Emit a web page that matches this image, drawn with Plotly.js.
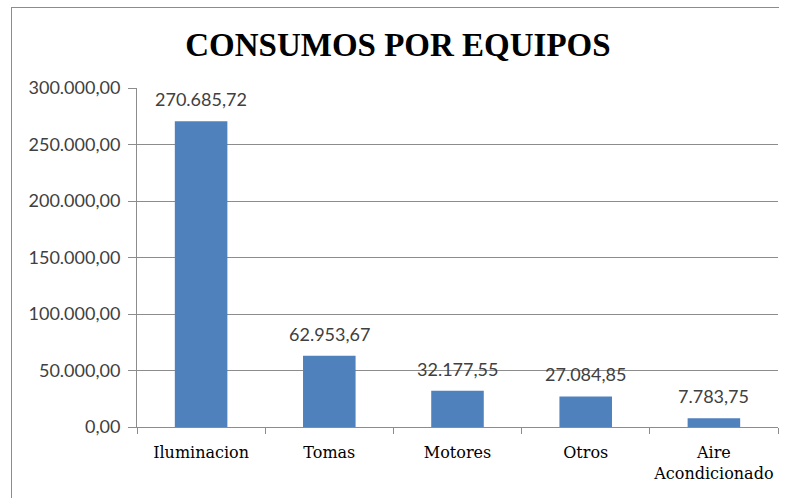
<!DOCTYPE html>
<html>
<head>
<meta charset="utf-8">
<script src="https://cdn.plot.ly/plotly-3.0.1.min.js"></script>
<style>
html,body{margin:0;padding:0;background:#fff;}
#wrap{position:relative;width:788px;height:498px;}
#chart{position:absolute;left:0;top:0;width:788px;height:498px;}
#frame{position:absolute;left:11px;top:7px;width:767px;height:500px;border-left:1px solid #8c8c8c;border-top:1px solid #8c8c8c;pointer-events:none;}
</style>
</head>
<body>
<div id="wrap"><div id="chart"></div><div id="frame"></div></div>
<script>
const categories = ["Iluminacion", "Tomas", "Motores", "Otros", "Aire<br>Acondicionado"];
const values = [270685.72, 62953.67, 32177.55, 27084.85, 7783.75];
const yTicks = [0, 50000, 100000, 150000, 200000, 250000, 300000];

function fmt(v) {
  const parts = v.toFixed(2).split(".");
  const intPart = parts[0].replace(/\B(?=(\d{3})+(?!\d))/g, ".");
  return intPart + "," + parts[1];
}

const trace = {
  type: "bar",
  x: categories,
  y: values,
  marker: {color: "#4F81BD", line: {width: 0}},
  hoverinfo: "none"
};

const annotations = categories.map((c, i) => ({
  x: c, y: values[i], xref: "x", yref: "y",
  text: fmt(values[i]), showarrow: false,
  yanchor: "bottom", yshift: 9,
  font: {family: "Lato, 'Open Sans', sans-serif", size: 18, color: "#404040"}
}));

const layout = {
  width: 788, height: 498,
  margin: {l: 137, r: 10, t: 88, b: 71},
  paper_bgcolor: "#fff", plot_bgcolor: "#fff",
  separators: ",.",
  showlegend: false,
  bargap: 0.59,
  title: {
    text: "<b>CONSUMOS POR EQUIPOS</b>",
    x: 0.505, xanchor: "center", y: 0.91, yanchor: "middle",
    font: {family: "'Liberation Serif', serif", size: 33, color: "#000"}
  },
  xaxis: {
    type: "category",
    showline: true, linecolor: "#8c8c8c", linewidth: 1,
    ticks: "outside", tickson: "boundaries", ticklen: 6, tickcolor: "#8c8c8c",
    showgrid: false,
    tickangle: 0,
    ticklabelstandoff: 11,
    tickfont: {family: "'DejaVu Serif', serif", size: 16, color: "#000"}
  },
  yaxis: {
    range: [0, 300000],
    tickvals: yTicks,
    ticktext: yTicks.map(fmt),
    showline: true, linecolor: "#8c8c8c", linewidth: 1,
    ticks: "outside", ticklen: 8, tickcolor: "#8c8c8c",
    showgrid: true, gridcolor: "#8c8c8c", gridwidth: 1,
    zeroline: false,
    ticklabelstandoff: 4,
    tickfont: {family: "Lato, 'Open Sans', sans-serif", size: 18, color: "#404040"}
  },
  annotations: annotations
};

Plotly.newPlot("chart", [trace], layout, {displayModeBar: false, staticPlot: true});
</script>
</body>
</html>
